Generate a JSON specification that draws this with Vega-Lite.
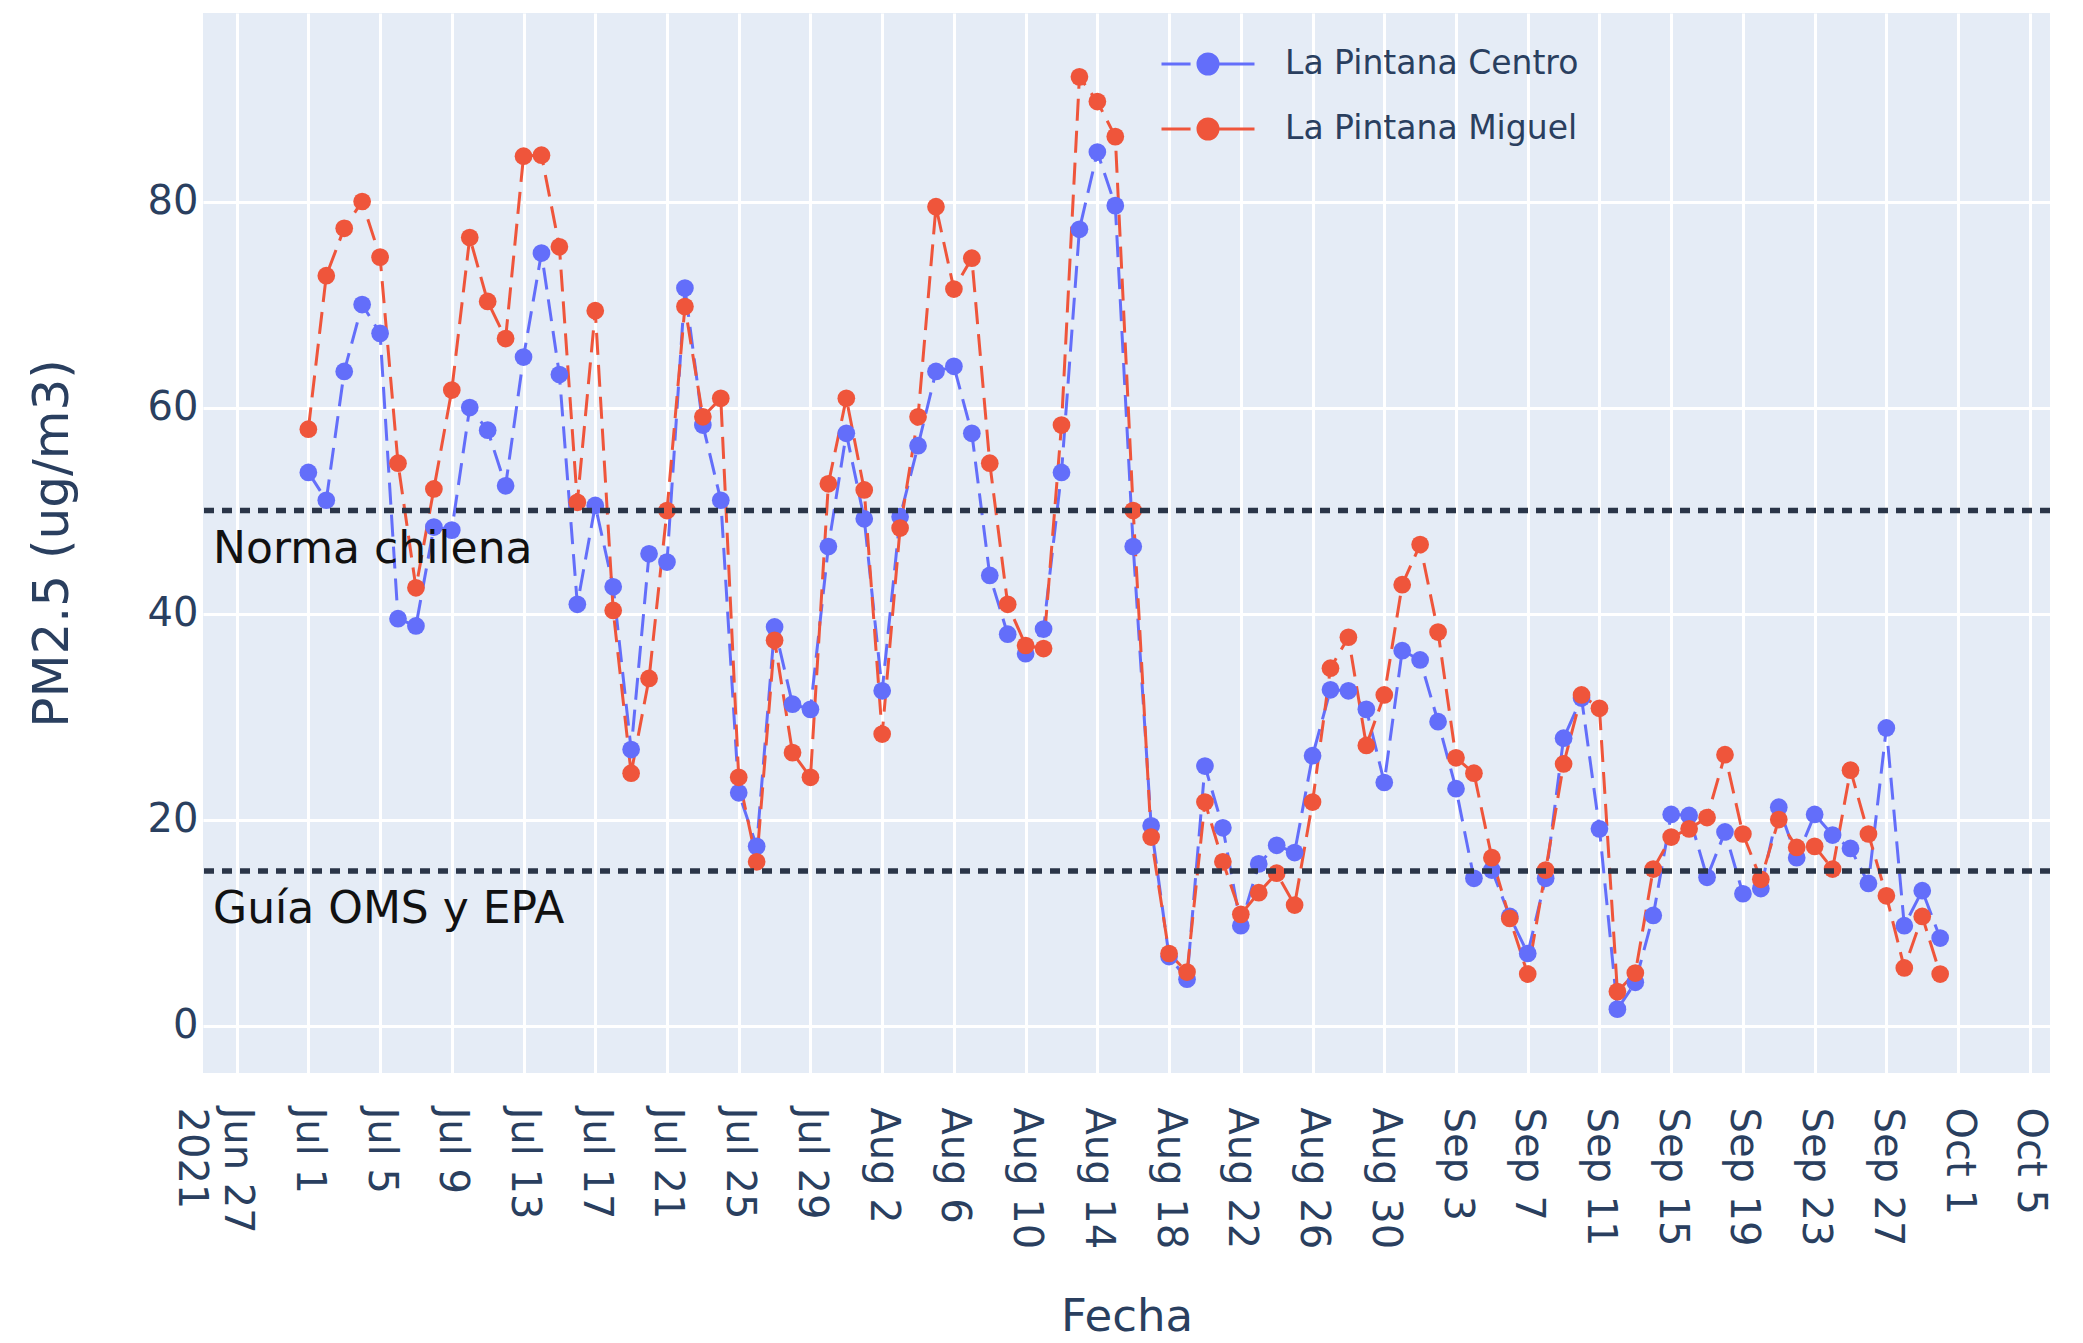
{
  "$schema": "https://vega.github.io/schema/vega-lite/v6.json",
  "width": 1847,
  "height": 1060,
  "autosize": {"type": "none"},
  "padding": {"left": 203, "top": 13, "right": 33, "bottom": 270},
  "background": "white",
  "config": {
    "view": {"fill": "#E5ECF6", "stroke": null},
    "font": "DejaVu Sans",
    "axis": {
      "gridColor": "white",
      "gridWidth": 3,
      "ticks": false,
      "domain": false,
      "labelColor": "#2a3f5f",
      "titleColor": "#2a3f5f",
      "titleFontWeight": "normal",
      "labelFontSize": 40
    }
  },
  "datasets": {
    "pm": [
      {"d":"2021-07-01T00:00","s":"La Pintana Centro","v":53.7},{"d":"2021-07-02T00:00","s":"La Pintana Centro","v":51},{"d":"2021-07-03T00:00","s":"La Pintana Centro","v":63.5},{"d":"2021-07-04T00:00","s":"La Pintana Centro","v":70},{"d":"2021-07-05T00:00","s":"La Pintana Centro","v":67.2},{"d":"2021-07-06T00:00","s":"La Pintana Centro","v":39.5},{"d":"2021-07-07T00:00","s":"La Pintana Centro","v":38.8},{"d":"2021-07-08T00:00","s":"La Pintana Centro","v":48.4},{"d":"2021-07-09T00:00","s":"La Pintana Centro","v":48.1},{"d":"2021-07-10T00:00","s":"La Pintana Centro","v":60},{"d":"2021-07-11T00:00","s":"La Pintana Centro","v":57.8},{"d":"2021-07-12T00:00","s":"La Pintana Centro","v":52.4},{"d":"2021-07-13T00:00","s":"La Pintana Centro","v":64.9},{"d":"2021-07-14T00:00","s":"La Pintana Centro","v":75},{"d":"2021-07-15T00:00","s":"La Pintana Centro","v":63.2},{"d":"2021-07-16T00:00","s":"La Pintana Centro","v":40.9},{"d":"2021-07-17T00:00","s":"La Pintana Centro","v":50.5},{"d":"2021-07-18T00:00","s":"La Pintana Centro","v":42.6},{"d":"2021-07-19T00:00","s":"La Pintana Centro","v":26.8},{"d":"2021-07-20T00:00","s":"La Pintana Centro","v":45.8},{"d":"2021-07-21T00:00","s":"La Pintana Centro","v":45},{"d":"2021-07-22T00:00","s":"La Pintana Centro","v":71.6},{"d":"2021-07-23T00:00","s":"La Pintana Centro","v":58.3},{"d":"2021-07-24T00:00","s":"La Pintana Centro","v":51},{"d":"2021-07-25T00:00","s":"La Pintana Centro","v":22.6},{"d":"2021-07-26T00:00","s":"La Pintana Centro","v":17.4},{"d":"2021-07-27T00:00","s":"La Pintana Centro","v":38.7},{"d":"2021-07-28T00:00","s":"La Pintana Centro","v":31.2},{"d":"2021-07-29T00:00","s":"La Pintana Centro","v":30.7},{"d":"2021-07-30T00:00","s":"La Pintana Centro","v":46.5},{"d":"2021-07-31T00:00","s":"La Pintana Centro","v":57.5},
      {"d":"2021-08-01T00:00","s":"La Pintana Centro","v":49.2},{"d":"2021-08-02T00:00","s":"La Pintana Centro","v":32.5},{"d":"2021-08-03T00:00","s":"La Pintana Centro","v":49.4},{"d":"2021-08-04T00:00","s":"La Pintana Centro","v":56.3},{"d":"2021-08-05T00:00","s":"La Pintana Centro","v":63.5},{"d":"2021-08-06T00:00","s":"La Pintana Centro","v":64},{"d":"2021-08-07T00:00","s":"La Pintana Centro","v":57.5},{"d":"2021-08-08T00:00","s":"La Pintana Centro","v":43.7},{"d":"2021-08-09T00:00","s":"La Pintana Centro","v":38},{"d":"2021-08-10T00:00","s":"La Pintana Centro","v":36.1},{"d":"2021-08-11T00:00","s":"La Pintana Centro","v":38.5},{"d":"2021-08-12T00:00","s":"La Pintana Centro","v":53.7},{"d":"2021-08-13T00:00","s":"La Pintana Centro","v":77.3},{"d":"2021-08-14T00:00","s":"La Pintana Centro","v":84.8},{"d":"2021-08-15T00:00","s":"La Pintana Centro","v":79.6},{"d":"2021-08-16T00:00","s":"La Pintana Centro","v":46.5},{"d":"2021-08-17T00:00","s":"La Pintana Centro","v":19.4},{"d":"2021-08-18T00:00","s":"La Pintana Centro","v":6.7},{"d":"2021-08-19T00:00","s":"La Pintana Centro","v":4.5},{"d":"2021-08-20T00:00","s":"La Pintana Centro","v":25.2},{"d":"2021-08-21T00:00","s":"La Pintana Centro","v":19.2},{"d":"2021-08-22T00:00","s":"La Pintana Centro","v":9.7},{"d":"2021-08-23T00:00","s":"La Pintana Centro","v":15.7},{"d":"2021-08-24T00:00","s":"La Pintana Centro","v":17.5},{"d":"2021-08-25T00:00","s":"La Pintana Centro","v":16.8},{"d":"2021-08-26T00:00","s":"La Pintana Centro","v":26.2},{"d":"2021-08-27T00:00","s":"La Pintana Centro","v":32.6},{"d":"2021-08-28T00:00","s":"La Pintana Centro","v":32.5},{"d":"2021-08-29T00:00","s":"La Pintana Centro","v":30.7},{"d":"2021-08-30T00:00","s":"La Pintana Centro","v":23.6},{"d":"2021-08-31T00:00","s":"La Pintana Centro","v":36.4},
      {"d":"2021-09-01T00:00","s":"La Pintana Centro","v":35.5},{"d":"2021-09-02T00:00","s":"La Pintana Centro","v":29.5},{"d":"2021-09-03T00:00","s":"La Pintana Centro","v":23},{"d":"2021-09-04T00:00","s":"La Pintana Centro","v":14.3},{"d":"2021-09-05T00:00","s":"La Pintana Centro","v":15.1},{"d":"2021-09-06T00:00","s":"La Pintana Centro","v":10.6},{"d":"2021-09-07T00:00","s":"La Pintana Centro","v":7},{"d":"2021-09-08T00:00","s":"La Pintana Centro","v":14.3},{"d":"2021-09-09T00:00","s":"La Pintana Centro","v":27.9},{"d":"2021-09-10T00:00","s":"La Pintana Centro","v":31.8},{"d":"2021-09-11T00:00","s":"La Pintana Centro","v":19.1},{"d":"2021-09-12T00:00","s":"La Pintana Centro","v":1.6},{"d":"2021-09-13T00:00","s":"La Pintana Centro","v":4.2},{"d":"2021-09-14T00:00","s":"La Pintana Centro","v":10.7},{"d":"2021-09-15T00:00","s":"La Pintana Centro","v":20.5},{"d":"2021-09-16T00:00","s":"La Pintana Centro","v":20.4},{"d":"2021-09-17T00:00","s":"La Pintana Centro","v":14.4},{"d":"2021-09-18T00:00","s":"La Pintana Centro","v":18.8},{"d":"2021-09-19T00:00","s":"La Pintana Centro","v":12.8},{"d":"2021-09-20T00:00","s":"La Pintana Centro","v":13.3},{"d":"2021-09-21T00:00","s":"La Pintana Centro","v":21.2},{"d":"2021-09-22T00:00","s":"La Pintana Centro","v":16.3},{"d":"2021-09-23T00:00","s":"La Pintana Centro","v":20.5},{"d":"2021-09-24T00:00","s":"La Pintana Centro","v":18.5},{"d":"2021-09-25T00:00","s":"La Pintana Centro","v":17.2},{"d":"2021-09-26T00:00","s":"La Pintana Centro","v":13.8},{"d":"2021-09-27T00:00","s":"La Pintana Centro","v":28.9},{"d":"2021-09-28T00:00","s":"La Pintana Centro","v":9.7},{"d":"2021-09-29T00:00","s":"La Pintana Centro","v":13.1},{"d":"2021-09-30T00:00","s":"La Pintana Centro","v":8.5},
      {"d":"2021-07-01T00:00","s":"La Pintana Miguel","v":57.9},{"d":"2021-07-02T00:00","s":"La Pintana Miguel","v":72.8},{"d":"2021-07-03T00:00","s":"La Pintana Miguel","v":77.4},{"d":"2021-07-04T00:00","s":"La Pintana Miguel","v":80},{"d":"2021-07-05T00:00","s":"La Pintana Miguel","v":74.6},{"d":"2021-07-06T00:00","s":"La Pintana Miguel","v":54.6},{"d":"2021-07-07T00:00","s":"La Pintana Miguel","v":42.5},{"d":"2021-07-08T00:00","s":"La Pintana Miguel","v":52.1},{"d":"2021-07-09T00:00","s":"La Pintana Miguel","v":61.7},{"d":"2021-07-10T00:00","s":"La Pintana Miguel","v":76.5},{"d":"2021-07-11T00:00","s":"La Pintana Miguel","v":70.3},{"d":"2021-07-12T00:00","s":"La Pintana Miguel","v":66.7},{"d":"2021-07-13T00:00","s":"La Pintana Miguel","v":84.4},{"d":"2021-07-14T00:00","s":"La Pintana Miguel","v":84.5},{"d":"2021-07-15T00:00","s":"La Pintana Miguel","v":75.6},{"d":"2021-07-16T00:00","s":"La Pintana Miguel","v":50.8},{"d":"2021-07-17T00:00","s":"La Pintana Miguel","v":69.4},{"d":"2021-07-18T00:00","s":"La Pintana Miguel","v":40.3},{"d":"2021-07-19T00:00","s":"La Pintana Miguel","v":24.5},{"d":"2021-07-20T00:00","s":"La Pintana Miguel","v":33.7},{"d":"2021-07-21T00:00","s":"La Pintana Miguel","v":50},{"d":"2021-07-22T00:00","s":"La Pintana Miguel","v":69.8},{"d":"2021-07-23T00:00","s":"La Pintana Miguel","v":59.1},{"d":"2021-07-24T00:00","s":"La Pintana Miguel","v":60.9},{"d":"2021-07-25T00:00","s":"La Pintana Miguel","v":24.1},{"d":"2021-07-26T00:00","s":"La Pintana Miguel","v":15.9},{"d":"2021-07-27T00:00","s":"La Pintana Miguel","v":37.4},{"d":"2021-07-28T00:00","s":"La Pintana Miguel","v":26.5},{"d":"2021-07-29T00:00","s":"La Pintana Miguel","v":24.1},{"d":"2021-07-30T00:00","s":"La Pintana Miguel","v":52.6},{"d":"2021-07-31T00:00","s":"La Pintana Miguel","v":60.9},
      {"d":"2021-08-01T00:00","s":"La Pintana Miguel","v":52},{"d":"2021-08-02T00:00","s":"La Pintana Miguel","v":28.3},{"d":"2021-08-03T00:00","s":"La Pintana Miguel","v":48.3},{"d":"2021-08-04T00:00","s":"La Pintana Miguel","v":59.1},{"d":"2021-08-05T00:00","s":"La Pintana Miguel","v":79.5},{"d":"2021-08-06T00:00","s":"La Pintana Miguel","v":71.5},{"d":"2021-08-07T00:00","s":"La Pintana Miguel","v":74.5},{"d":"2021-08-08T00:00","s":"La Pintana Miguel","v":54.6},{"d":"2021-08-09T00:00","s":"La Pintana Miguel","v":40.9},{"d":"2021-08-10T00:00","s":"La Pintana Miguel","v":36.9},{"d":"2021-08-11T00:00","s":"La Pintana Miguel","v":36.6},{"d":"2021-08-12T00:00","s":"La Pintana Miguel","v":58.3},{"d":"2021-08-13T00:00","s":"La Pintana Miguel","v":92.1},{"d":"2021-08-14T00:00","s":"La Pintana Miguel","v":89.7},{"d":"2021-08-15T00:00","s":"La Pintana Miguel","v":86.3},{"d":"2021-08-16T00:00","s":"La Pintana Miguel","v":50},{"d":"2021-08-17T00:00","s":"La Pintana Miguel","v":18.3},{"d":"2021-08-18T00:00","s":"La Pintana Miguel","v":7},{"d":"2021-08-19T00:00","s":"La Pintana Miguel","v":5.2},{"d":"2021-08-20T00:00","s":"La Pintana Miguel","v":21.7},{"d":"2021-08-21T00:00","s":"La Pintana Miguel","v":15.9},{"d":"2021-08-22T00:00","s":"La Pintana Miguel","v":10.8},{"d":"2021-08-23T00:00","s":"La Pintana Miguel","v":12.9},{"d":"2021-08-24T00:00","s":"La Pintana Miguel","v":14.8},{"d":"2021-08-25T00:00","s":"La Pintana Miguel","v":11.7},{"d":"2021-08-26T00:00","s":"La Pintana Miguel","v":21.7},{"d":"2021-08-27T00:00","s":"La Pintana Miguel","v":34.7},{"d":"2021-08-28T00:00","s":"La Pintana Miguel","v":37.7},{"d":"2021-08-29T00:00","s":"La Pintana Miguel","v":27.2},{"d":"2021-08-30T00:00","s":"La Pintana Miguel","v":32.1},{"d":"2021-08-31T00:00","s":"La Pintana Miguel","v":42.8},
      {"d":"2021-09-01T00:00","s":"La Pintana Miguel","v":46.7},{"d":"2021-09-02T00:00","s":"La Pintana Miguel","v":38.2},{"d":"2021-09-03T00:00","s":"La Pintana Miguel","v":26},{"d":"2021-09-04T00:00","s":"La Pintana Miguel","v":24.5},{"d":"2021-09-05T00:00","s":"La Pintana Miguel","v":16.3},{"d":"2021-09-06T00:00","s":"La Pintana Miguel","v":10.4},{"d":"2021-09-07T00:00","s":"La Pintana Miguel","v":5},{"d":"2021-09-08T00:00","s":"La Pintana Miguel","v":15.1},{"d":"2021-09-09T00:00","s":"La Pintana Miguel","v":25.4},{"d":"2021-09-10T00:00","s":"La Pintana Miguel","v":32.1},{"d":"2021-09-11T00:00","s":"La Pintana Miguel","v":30.8},{"d":"2021-09-12T00:00","s":"La Pintana Miguel","v":3.3},{"d":"2021-09-13T00:00","s":"La Pintana Miguel","v":5.1},{"d":"2021-09-14T00:00","s":"La Pintana Miguel","v":15.2},{"d":"2021-09-15T00:00","s":"La Pintana Miguel","v":18.3},{"d":"2021-09-16T00:00","s":"La Pintana Miguel","v":19.1},{"d":"2021-09-17T00:00","s":"La Pintana Miguel","v":20.2},{"d":"2021-09-18T00:00","s":"La Pintana Miguel","v":26.3},{"d":"2021-09-19T00:00","s":"La Pintana Miguel","v":18.6},{"d":"2021-09-20T00:00","s":"La Pintana Miguel","v":14.2},{"d":"2021-09-21T00:00","s":"La Pintana Miguel","v":20},{"d":"2021-09-22T00:00","s":"La Pintana Miguel","v":17.3},{"d":"2021-09-23T00:00","s":"La Pintana Miguel","v":17.4},{"d":"2021-09-24T00:00","s":"La Pintana Miguel","v":15.2},{"d":"2021-09-25T00:00","s":"La Pintana Miguel","v":24.8},{"d":"2021-09-26T00:00","s":"La Pintana Miguel","v":18.6},{"d":"2021-09-27T00:00","s":"La Pintana Miguel","v":12.6},{"d":"2021-09-28T00:00","s":"La Pintana Miguel","v":5.6},{"d":"2021-09-29T00:00","s":"La Pintana Miguel","v":10.6},{"d":"2021-09-30T00:00","s":"La Pintana Miguel","v":5}
    ],
    "limits": [
      {"d":"2021-06-25T16:30","y":50,"label":"Norma chilena"},
      {"d":"2021-06-25T16:30","y":15,"label":"Guía OMS y EPA"}
    ]
  },
  "layer": [
    {
      "data": {"name": "pm"},
      "mark": {"type": "line", "strokeWidth": 3, "strokeDash": [22, 10]},
      "encoding": {
        "x": {
          "field": "d", "type": "temporal", "title": "Fecha",
          "scale": {"domain": [{"year": 2021, "month": 6, "date": 25, "hours": 3}, {"year": 2021, "month": 10, "date": 6, "hours": 3}]},
          "axis": {
            "values": [
              {"year":2021,"month":6,"date":27},{"year":2021,"month":7,"date":1},{"year":2021,"month":7,"date":5},{"year":2021,"month":7,"date":9},{"year":2021,"month":7,"date":13},{"year":2021,"month":7,"date":17},{"year":2021,"month":7,"date":21},{"year":2021,"month":7,"date":25},{"year":2021,"month":7,"date":29},{"year":2021,"month":8,"date":2},{"year":2021,"month":8,"date":6},{"year":2021,"month":8,"date":10},{"year":2021,"month":8,"date":14},{"year":2021,"month":8,"date":18},{"year":2021,"month":8,"date":22},{"year":2021,"month":8,"date":26},{"year":2021,"month":8,"date":30},{"year":2021,"month":9,"date":3},{"year":2021,"month":9,"date":7},{"year":2021,"month":9,"date":11},{"year":2021,"month":9,"date":15},{"year":2021,"month":9,"date":19},{"year":2021,"month":9,"date":23},{"year":2021,"month":9,"date":27},{"year":2021,"month":10,"date":1},{"year":2021,"month":10,"date":5}
            ],
            "labelExpr": "datum.index == 0 ? [timeFormat(datum.value, '%b %-d'), '2021'] : timeFormat(datum.value, '%b %-d')",
            "labelAngle": 90,
            "labelPadding": 34,
            "labelLineHeight": 46,
            "labelOverlap": false,
            "titleFontSize": 45,
            "titlePadding": 46
          }
        },
        "y": {
          "field": "v", "type": "quantitative", "title": "PM2.5 (ug/m3)",
          "scale": {"domain": [-4.6, 98.3], "nice": false, "zero": false},
          "axis": {"values": [0, 20, 40, 60, 80], "labelPadding": 5, "titleFontSize": 50, "titlePadding": 70}
        },
        "color": {
          "field": "s", "type": "nominal",
          "scale": {"domain": ["La Pintana Centro", "La Pintana Miguel"], "range": ["#636EFA", "#EF553B"]}
        }
      }
    },
    {
      "data": {"name": "pm"},
      "mark": {"type": "circle", "size": 314, "opacity": 1},
      "encoding": {
        "x": {"field": "d", "type": "temporal"},
        "y": {"field": "v", "type": "quantitative"},
        "color": {
          "field": "s", "type": "nominal",
          "legend": {
            "orient": "none",
            "legendX": 980,
            "legendY": 26,
            "title": null,
            "padding": 0,
            "labelFontSize": 33,
            "labelLimit": 0,
            "labelColor": "#2a3f5f",
            "symbolType": "M-2,0H-0.75M0.43,0H2M0.43,0A0.43,0.43,0,1,1,-0.43,0A0.43,0.43,0,1,1,0.43,0Z",
            "symbolSize": 2162,
            "symbolStrokeWidth": 3,
            "labelOffset": 52,
            "rowPadding": 23,
            "encode": {
              "symbols": {
                "update": {
                  "fill": {"scale": "color", "field": "value"},
                  "stroke": {"scale": "color", "field": "value"},
                  "strokeWidth": {"value": 3},
                  "strokeDash": {"value": [1, 0]},
                  "opacity": {"value": 1}
                }
              }
            }
          }
        }
      }
    },
    {
      "data": {"name": "limits"},
      "mark": {"type": "rule", "color": "#2a3548", "strokeWidth": 5.5, "strokeDash": [10, 8]},
      "encoding": {
        "y": {"field": "y", "type": "quantitative"}
      }
    },
    {
      "data": {"name": "limits"},
      "mark": {"type": "text", "align": "left", "baseline": "alphabetic", "dy": 52, "fontSize": 44, "color": "#111111"},
      "encoding": {
        "x": {"field": "d", "type": "temporal"},
        "y": {"field": "y", "type": "quantitative"},
        "text": {"field": "label"}
      }
    }
  ]
}
